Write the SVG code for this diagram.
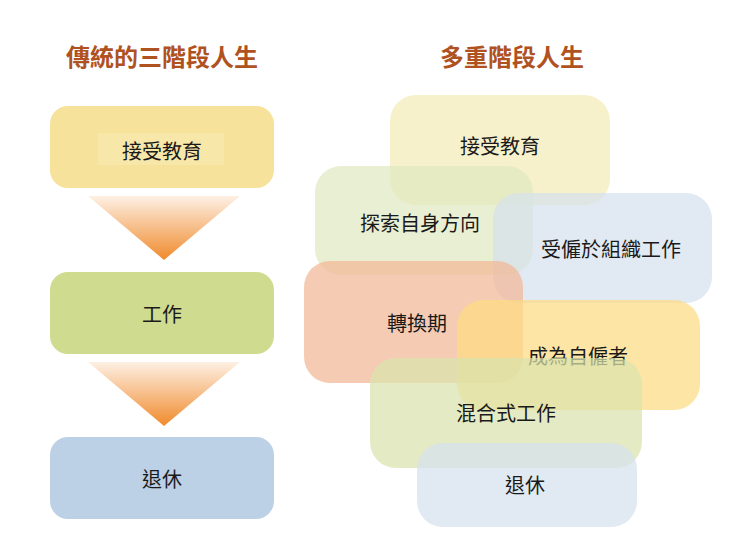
<svg xmlns="http://www.w3.org/2000/svg" width="740" height="555" viewBox="0 0 740 555">
<style>
text{font-family:"Noto Sans CJK TC","Noto Sans CJK SC",sans-serif;fill:#1a1a1a;text-anchor:middle;dominant-baseline:central;font-size:20px}
.t{font-weight:bold;fill:#b0521f;font-size:24px}
.b{fill-opacity:0.72}
</style>
<defs>
<linearGradient id="tri" x1="0" y1="0" x2="0" y2="1">
<stop offset="0" stop-color="#fdf0e4"/><stop offset="1" stop-color="#f08a2c"/>
</linearGradient>
</defs>
<rect width="740" height="555" fill="#fff"/>
<text class="t" x="162" y="55">傳統的三階段人生</text>
<text class="t" x="512" y="55">多重階段人生</text>
<g id="connectors">
<polygon points="88,196 240,196 164,260" fill="url(#tri)"/>
<polygon points="88,362 240,362 164,426" fill="url(#tri)"/>
</g>
<g id="l1"><rect x="50" y="106" width="224" height="82" rx="18" fill="#f6e29a"/><rect x="98" y="133" width="126" height="32" fill="#f7e7a8"/><text x="162" y="150">接受教育</text></g>
<g id="l2"><rect x="50" y="272" width="224" height="82" rx="18" fill="#cfdb8f"/><text x="162" y="313">工作</text></g>
<g id="l3"><rect x="50" y="437" width="224" height="82" rx="18" fill="#bcd1e5"/><text x="162" y="478">退休</text></g>
<g id="r1"><rect class="b" x="390" y="95" width="220" height="110" rx="26" fill="#f3ebb6"/><text x="500" y="145">接受教育</text></g>
<g id="r2"><rect class="b" x="315" y="166" width="218" height="109" rx="26" fill="#e1e9c0"/><text x="420" y="222">探索自身方向</text></g>
<g id="r3"><rect class="b" x="493" y="193" width="219" height="110" rx="26" fill="#d5e1ed"/><text x="611" y="248">受僱於組織工作</text></g>
<g id="r4"><rect class="b" x="304" y="261" width="219" height="122" rx="26" fill="#f2b795"/><text x="417" y="322">轉換期</text></g>
<g id="r5"><rect class="b" x="457" y="300" width="243" height="110" rx="26" fill="#fcdb82"/><text x="578" y="355">成為自僱者</text></g>
<g id="r6"><rect class="b" x="370" y="358" width="272" height="110" rx="26" fill="#d9e3ad"/><text x="506" y="412">混合式工作</text></g>
<g id="r7"><rect class="b" x="417" y="443" width="220" height="84" rx="26" fill="#d6e1ed"/><text x="525" y="484">退休</text></g>
</svg>
